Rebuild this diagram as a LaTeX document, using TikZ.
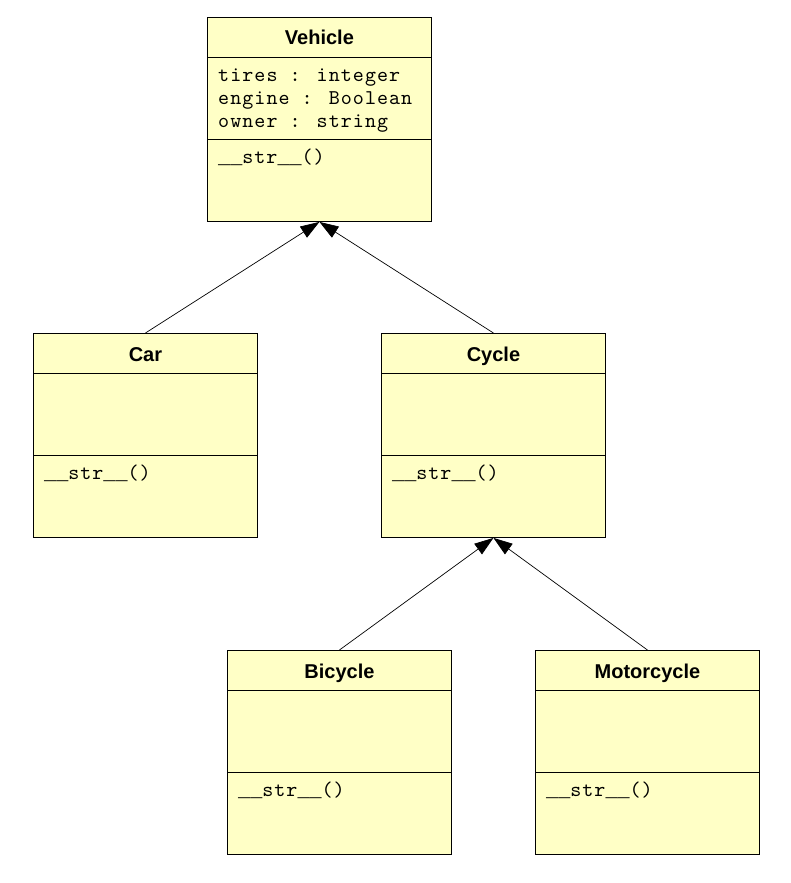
\documentclass[tikz,border=0pt]{standalone}
\usepackage{fontspec}
\setmainfont{Liberation Sans}
\newfontfamily\umlmono{lmmono10-regular.otf}[LetterSpace=5]
\newfontfamily\umlbar{Liberation Mono}
\newcommand\umlus{{\umlbar\fontsize{20.1}{23}\selectfont\_}}
\usetikzlibrary{arrows.meta}
\definecolor{classfill}{HTML}{FFFFC6}
\tikzset{
  classbox/.style={draw=black, fill=classfill, line width=0.9pt, minimum width=224pt, minimum height=204pt, inner sep=0pt, anchor=north west},
  sepline/.style={draw=black, line width=0.9pt},
  classtitle/.style={font=\fontsize{20}{24}\selectfont\bfseries, inner sep=0pt, anchor=base},
  member/.style={font=\umlmono\fontsize{21}{23}\selectfont, inner sep=0pt, anchor=base west},
  inherit/.style={-{Triangle[length=19pt,width=13pt]}, line width=0.7pt, draw=black},
}
\newcommand\umlbox[3]{%
  \node[classbox] (#1) at #2 {};
  \draw[sepline] ([yshift=-40.5pt]#1.north west) -- ([yshift=-40.5pt]#1.north east);
  \draw[sepline] ([yshift=-122pt]#1.north west) -- ([yshift=-122pt]#1.north east);
  \node[classtitle] (#1-title) at ([yshift=-28pt]#1.north) {#3};
  \node[member] (#1-op) at ([xshift=11pt,yshift=-146pt]#1.north west) {\umlus\umlus str\umlus\umlus()};
}
\begin{document}
\begin{tikzpicture}[x=1pt,y=-1pt]
  \useasboundingbox (0,0) rectangle (791,883);
  \umlbox{vehicle}{(207,17)}{Vehicle}
  \node[member] (vehicle-a1) at ([xshift=11pt,yshift=-64.7pt]vehicle.north west) {tires : integer};
  \node[member] (vehicle-a2) at ([xshift=11pt,yshift=-87.5pt]vehicle.north west) {engine : Boolean};
  \node[member] (vehicle-a3) at ([xshift=11pt,yshift=-110.3pt]vehicle.north west) {owner : string};
  \umlbox{car}{(33,333)}{Car}
  \umlbox{cycle}{(381,333)}{Cycle}
  \umlbox{bicycle}{(227,650)}{Bicycle}
  \umlbox{motorcycle}{(535,650)}{Motorcycle}
  \draw[inherit] (car.north) -- (vehicle.south);
  \draw[inherit] (cycle.north) -- (vehicle.south);
  \draw[inherit] (bicycle.north) -- (cycle.south);
  \draw[inherit] (motorcycle.north) -- (cycle.south);
\end{tikzpicture}
\end{document}
